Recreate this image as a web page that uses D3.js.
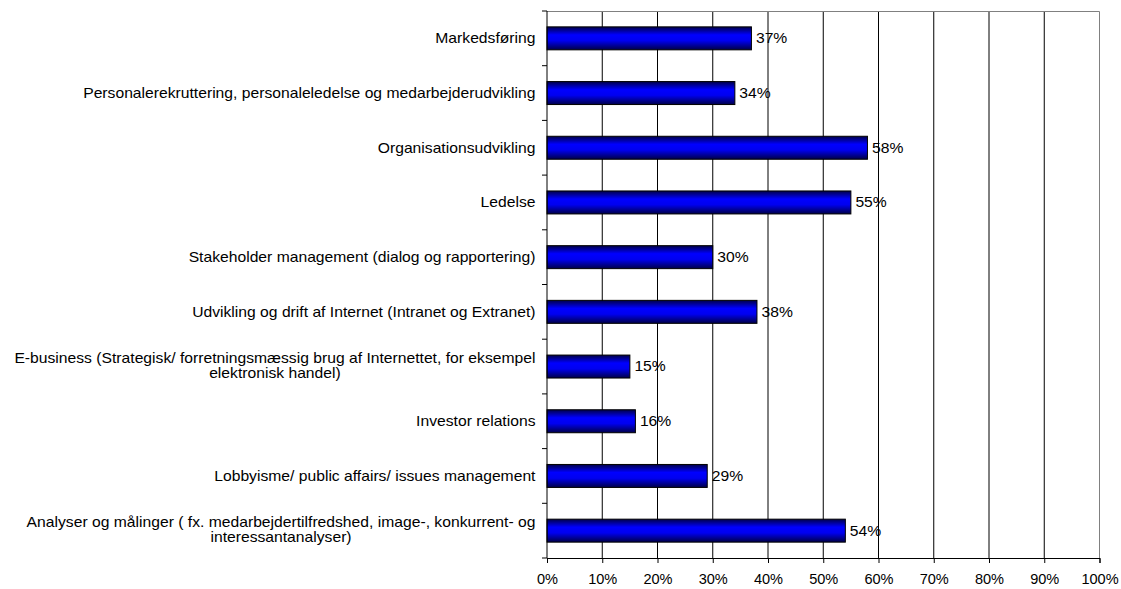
<!DOCTYPE html>
<html>
<head>
	<meta charset="utf-8">
	<title>Kompetencer</title>
	<script src="https://d3js.org/d3.v7.min.js"></script>
	<style>
		body { margin: 0; background: #fff; }
		text { font-family: "Liberation Sans", Arial, sans-serif; fill: #000; }
	</style>
</head>
<body>
	<script type="text/javascript">
		// categories, top to bottom
		var categories = [
			"Markedsføring",
			"Personalerekruttering, personaleledelse og medarbejderudvikling",
			"Organisationsudvikling",
			"Ledelse",
			"Stakeholder management (dialog og rapportering)",
			"Udvikling og drift af Internet (Intranet og Extranet)",
			"E-business (Strategisk/ forretningsmæssig brug af Internettet, for eksempel elektronisk handel)",
			"Investor relations",
			"Lobbyisme/ public affairs/ issues management",
			"Analyser og målinger ( fx. medarbejdertilfredshed, image-, konkurrent- og interessantanalyser)"
		];
		// share of respondents
		var values = [0.37, 0.34, 0.58, 0.55, 0.30, 0.38, 0.15, 0.16, 0.29, 0.54];
		var xTicks = [0, 0.1, 0.2, 0.3, 0.4, 0.5, 0.6, 0.7, 0.8, 0.9, 1];

		var width = 1121;
		var height = 589;
		// plot area edges (note: "top" is taken by window.top)
		var plotLeft = 547, plotRight = 1099.5, plotTop = 11, plotBottom = 558;
		// the original text is a bit wider than Arial, so stretch it sideways
		var stretch = 1.12, tickStretch = 1.04;

		var svg = d3.select("body").append("svg")
			.attr("width", width)
			.attr("height", height);

		// bar gradient, dark edges with bright blue in the middle
		var grad = svg.append("defs").append("linearGradient")
			.attr("id", "barGrad")
			.attr("x1", 0).attr("y1", 0).attr("x2", 0).attr("y2", 1);
		grad.append("stop").attr("offset", "0%").attr("stop-color", "#000048");
		grad.append("stop").attr("offset", "35%").attr("stop-color", "#0000ff");
		grad.append("stop").attr("offset", "60%").attr("stop-color", "#0000f0");
		grad.append("stop").attr("offset", "100%").attr("stop-color", "#000048");

		var x = d3.scaleLinear().domain([0, 1]).range([plotLeft, plotRight]);
		var y = d3.scaleBand().domain(categories).range([plotTop, plotBottom]).padding(0);
		var barH = y.bandwidth() * 0.42;

		// gridlines
		svg.selectAll(".grid")
			.data(xTicks.slice(1, -1))
			.enter().append("line")
			.attr("x1", function(d) { return x(d); })
			.attr("x2", function(d) { return x(d); })
			.attr("y1", plotTop).attr("y2", plotBottom)
			.attr("stroke", "#000").attr("stroke-width", 1);

		// plot border top and right (grey)
		svg.append("path")
			.attr("d", "M" + plotLeft + "," + (plotTop + 0.5) + "H" + plotRight + "V" + plotBottom)
			.attr("fill", "none").attr("stroke", "#808080");

		// bars
		svg.selectAll(".bar")
			.data(values)
			.enter().append("rect")
			.attr("x", x(0))
			.attr("y", function(d, i) { return y(categories[i]) + (y.bandwidth() - barH) / 2; })
			.attr("width", function(d) { return x(d) - x(0); })
			.attr("height", barH)
			.attr("fill", "url(#barGrad)")
			.attr("stroke", "#000").attr("stroke-width", 1);

		// value labels
		svg.selectAll(".val")
			.data(values)
			.enter().append("text")
			.attr("transform", function(d, i) {
				return "translate(" + (x(d) + 4.5) + "," + (y(categories[i]) + y.bandwidth() / 2) + ") scale(" + stretch + ",1)";
			})
			.attr("dy", "0.35em")
			.style("font-size", "14px")
			.text(function(d) { return Math.round(d * 100) + "%"; });

		// x axis
		var xAxis = d3.axisBottom(x)
			.tickValues(xTicks)
			.tickFormat(d3.format(".0%"))
			.tickSize(5)
			.tickPadding(11);
		var gx = svg.append("g").attr("transform", "translate(0," + plotBottom + ")").call(xAxis);
		gx.select(".domain").attr("stroke", "#000");
		gx.selectAll("text")
			.style("font-size", "14px")
			.style("font-family", "'Liberation Sans', Arial, sans-serif")
			.attr("transform", "scale(" + tickStretch + ",1)");

		// y axis line with ticks at category boundaries
		svg.append("line")
			.attr("x1", plotLeft).attr("x2", plotLeft)
			.attr("y1", plotTop).attr("y2", plotBottom)
			.attr("stroke", "#000");
		svg.selectAll(".ytick")
			.data(categories.concat([null]))
			.enter().append("line")
			.attr("x1", plotLeft - 5).attr("x2", plotLeft)
			.attr("y1", function(d) { return d === null ? plotBottom : y(d); })
			.attr("y2", function(d) { return d === null ? plotBottom : y(d); })
			.attr("stroke", "#000");

		// category labels, wrapped to a max width, lines centred within the block
		var maxW = 525, lineH = 15, labelRight = 535.5;
		categories.forEach(function(c) {
			var g = svg.append("g");
			var words = c.split(" ");
			var lines = [];
			var line = [];
			var probe = g.append("text").style("font-size", "14px");
			words.forEach(function(w) {
				line.push(w);
				probe.text(line.join(" "));
				if (probe.node().getComputedTextLength() * stretch > maxW && line.length > 1) {
					line.pop();
					lines.push(line.join(" "));
					line = [w];
				}
			});
			lines.push(line.join(" "));
			probe.remove();

			var texts = g.selectAll("text")
				.data(lines)
				.enter().append("text")
				.style("font-size", "14px")
				.attr("text-anchor", "middle")
				.attr("dy", "0.35em")
				.text(function(d) { return d; });
			var blockW = stretch * d3.max(texts.nodes(), function(n) { return n.getComputedTextLength(); });
			var cy = y(c) + y.bandwidth() / 2;
			// wrapped blocks sit a touch above the band centre in the original
			var shift = lines.length > 1 ? -1 : 0;
			texts.attr("transform", function(d, i) {
				var ly = cy + shift + (i - (lines.length - 1) / 2) * lineH;
				return "translate(" + (labelRight - blockW / 2) + "," + ly + ") scale(" + stretch + ",1)";
			});
		});
	</script>
</body>
</html>
